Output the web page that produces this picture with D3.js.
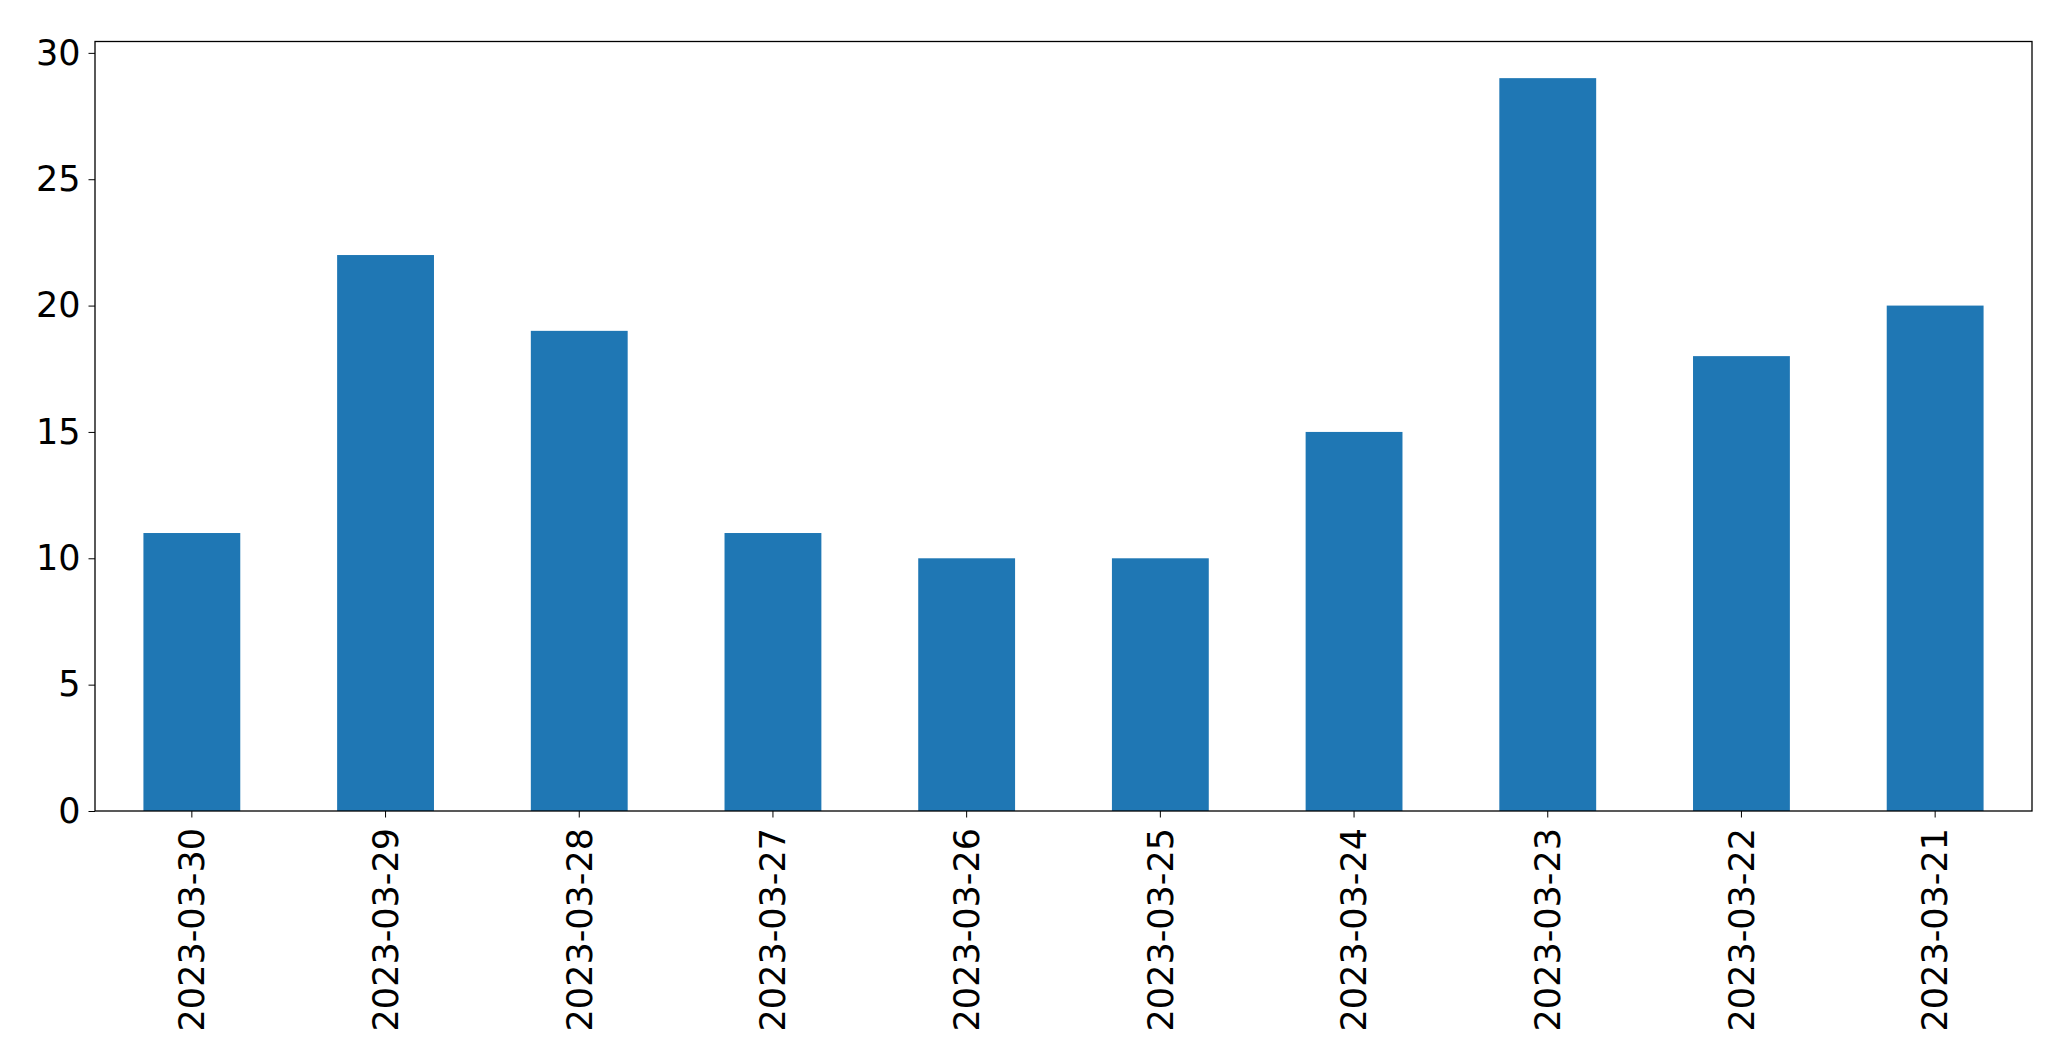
<!DOCTYPE html>
<html><head><meta charset="utf-8">
<script src="https://cdn.jsdelivr.net/npm/d3@7"></script>
<style>body{margin:0;background:#fff}svg{display:block}</style>
</head><body><div id="chart"></div>
<script>
const dates = ["2023-03-30","2023-03-29","2023-03-28","2023-03-27","2023-03-26","2023-03-25","2023-03-24","2023-03-23","2023-03-22","2023-03-21"];
const counts = [11,22,19,11,10,10,15,29,18,20];
const yTicks = [0,5,10,15,20,25,30];

const W = 2071, H = 1063;
const m = {left: 95, right: 2032, top: 41.5, bottom: 811};
const svg = d3.select("#chart").append("svg").attr("width", W).attr("height", H);

const x = d3.scaleBand().domain(dates).range([m.left, m.right]).paddingInner(0.5).paddingOuter(0.25);
const y = d3.scaleLinear().domain([0, 30.45]).range([m.bottom, m.top]);

svg.selectAll("rect.bar").data(dates).join("rect").attr("class","bar")
  .attr("x", d => x(d)).attr("width", x.bandwidth())
  .attr("y", (d,i) => y(counts[i])).attr("height", (d,i) => y(0) - y(counts[i]))
  .attr("fill", "#1f77b4");

const font = "DejaVu Sans, sans-serif";
const yAxis = svg.append("g").attr("transform", `translate(${m.left},0)`)
  .call(d3.axisLeft(y).tickValues(yTicks).tickSize(6.5).tickPadding(8).tickSizeOuter(0));
yAxis.select(".domain").remove();
yAxis.selectAll("text").style("font-family", font).style("font-size", "35px").attr("fill","#000");

const xAxis = svg.append("g").attr("transform", `translate(0,${m.bottom})`)
  .call(d3.axisBottom(x).tickSize(6.5).tickSizeOuter(0));
xAxis.select(".domain").remove();
xAxis.selectAll("text").style("font-family", font).style("font-size", "35px").attr("fill","#000")
  .attr("transform", "rotate(-90)").attr("text-anchor", "end")
  .attr("x", -17).attr("y", 0).attr("dy", "0.35em");

svg.append("rect").attr("x", m.left).attr("y", m.top)
  .attr("width", m.right - m.left).attr("height", m.bottom - m.top)
  .attr("fill", "none").attr("stroke", "#000").attr("stroke-width", 1.3);
</script></body></html>
